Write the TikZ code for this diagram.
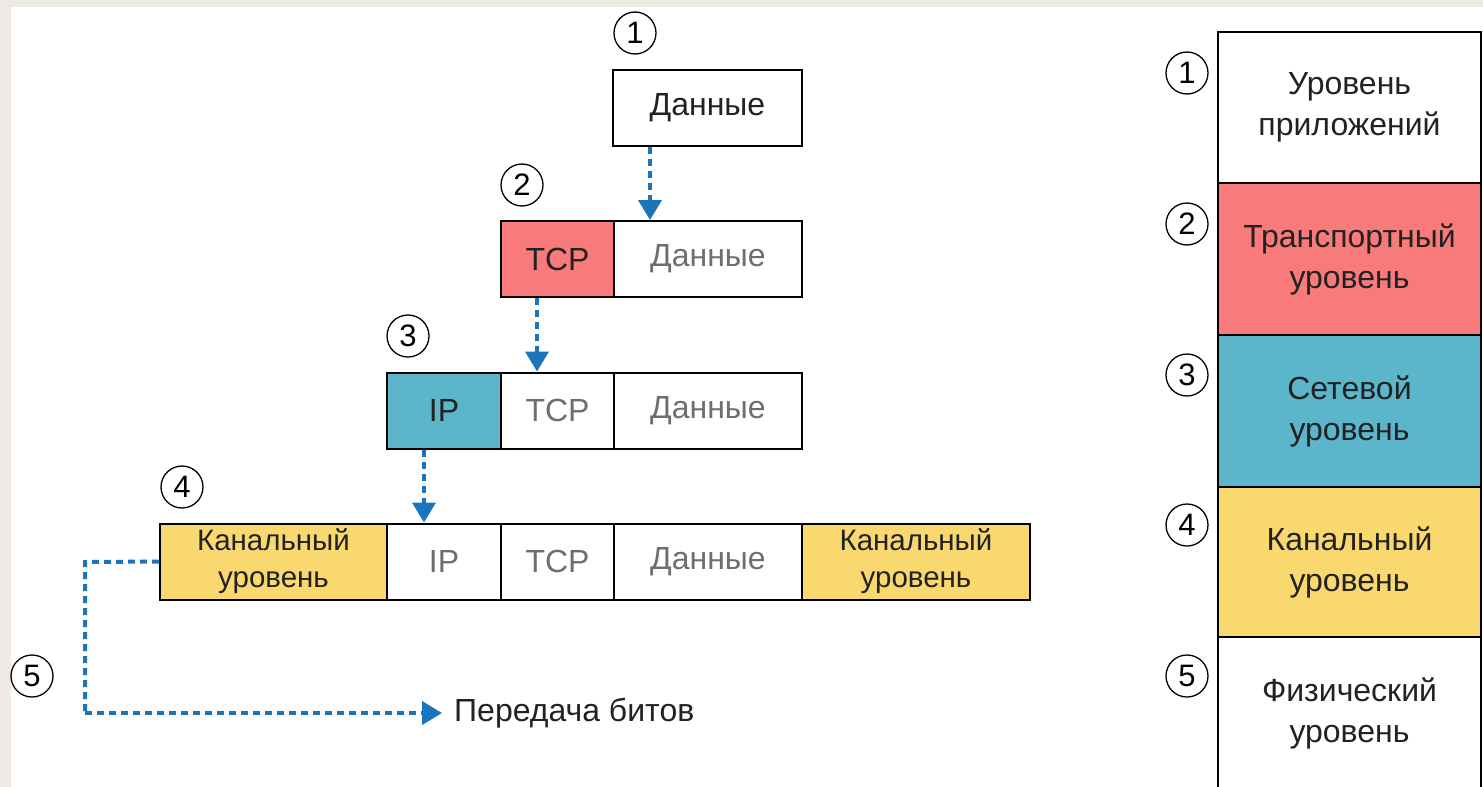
\documentclass[tikz,border=0pt]{standalone}
\usepackage{fontspec}
\setmainfont{Liberation Sans}
\usetikzlibrary{arrows.meta}
\definecolor{bgbeige}{HTML}{EDEAE3}
\definecolor{cred}{HTML}{F87A7A}
\definecolor{cblue}{HTML}{5BB5CB}
\definecolor{cyel}{HTML}{F9D96F}
\definecolor{arrblue}{HTML}{1B75BC}
\definecolor{gtext}{HTML}{6E6E6E}
\definecolor{dtext}{HTML}{222222}
\tikzset{
  cell/.style={draw=black, line width=2pt, minimum height=76pt, inner sep=0pt,
    font=\fontsize{32}{36}\selectfont, text=dtext},
  dim/.style={text=gtext},
  layer/.style={draw=black, line width=2pt, minimum width=263pt, inner sep=0pt,
    align=center, font=\fontsize{32}{41}\selectfont, text=dtext},
  num/.style={circle, draw=black, line width=1.3pt, minimum size=42pt, inner sep=0pt,
    font=\fontsize{31}{32}\selectfont},
  arr/.style={draw=arrblue, line width=4pt, dash pattern=on 7pt off 5pt,
    -{Triangle[length=20pt,width=23pt]}},
  path5/.style={draw=arrblue, line width=4pt, dash pattern=on 7pt off 5pt},
}
\begin{document}
\begin{tikzpicture}[x=1pt,y=-1pt]
\useasboundingbox (0,0) rectangle (1483,787);
\clip (0,0) rectangle (1483,787);
\fill[bgbeige] (0,0) rectangle (1483,787);
\fill[white] (11,7) rectangle (1483,787);

% row 1
\node[cell, minimum width=189pt] (d1) at (707.5,107.5) {Данные};
\node[num] (n1) at (635,33) {1};
% row 2
\node[cell, minimum width=113pt, fill=cred] (t2) at (557.5,259) {TCP};
\node[cell, minimum width=188pt, dim] (d2) at (708,259) {Данные};
\node[num] (n2) at (522,185) {2};
% row 3
\node[cell, minimum width=114pt, fill=cblue] (ip3) at (444,410.5) {IP};
\node[cell, minimum width=113pt, dim] (t3) at (557.5,410.5) {TCP};
\node[cell, minimum width=188pt, dim] (d3) at (708,410.5) {Данные};
\node[num] (n3) at (408,336) {3};
% row 4
\node[cell, minimum width=227pt, fill=cyel, align=center, font=\fontsize{29.5}{37}\selectfont] (k4a) at (273.5,561.5) {Канальный\\уровень};
\node[cell, minimum width=114pt, dim] (ip4) at (444,561.5) {IP};
\node[cell, minimum width=113pt, dim] (t4) at (557.5,561.5) {TCP};
\node[cell, minimum width=188pt, dim] (d4) at (708,561.5) {Данные};
\node[cell, minimum width=228pt, fill=cyel, align=center, font=\fontsize{29.5}{37}\selectfont] (k4b) at (916,561.5) {Канальный\\уровень};
\node[num] (n4) at (182,487) {4};
% step 5
\node[num] (n5) at (32,676) {5};
\node[anchor=west, inner sep=0pt, font=\fontsize{32}{34}\selectfont, text=dtext] (bits) at (454,713) {Передача битов};
\coordinate (c5a) at (85,562);
\coordinate (c5b) at (85,713);

% arrows
\draw[arr] ([xshift=38pt]d1.south west) -- ([xshift=37pt]d2.north west);
\draw[arr] ([xshift=37pt]t2.south west) -- ([xshift=37pt]t3.north west);
\draw[arr] ([xshift=38pt]ip3.south west) -- ([xshift=38pt]ip4.north west);
\draw[path5] (k4a.west) -- (c5a) -- (c5b);
\draw[arr] (c5b) -- ([xshift=-12pt]bits.west);

% right column
\node[layer, minimum height=151pt] (l1) at (1349.5,107.5) {Уровень\\приложений};
\node[layer, minimum height=152pt, fill=cred] (l2) at (1349.5,259) {Транспортный\\уровень};
\node[layer, minimum height=152pt, fill=cblue] (l3) at (1349.5,411) {Сетевой\\уровень};
\node[layer, minimum height=150pt, fill=cyel] (l4) at (1349.5,562) {Канальный\\уровень};
\node[layer, minimum height=152pt] (l5) at (1349.5,713) {Физический\\уровень};
\node[num] (r1) at (1187,73) {1};
\node[num] (r2) at (1187,224) {2};
\node[num] (r3) at (1187,375) {3};
\node[num] (r4) at (1187,525) {4};
\node[num] (r5) at (1187,676) {5};
\end{tikzpicture}
\end{document}
